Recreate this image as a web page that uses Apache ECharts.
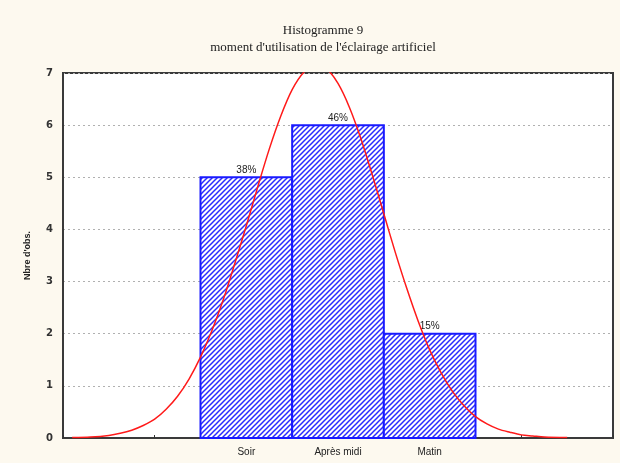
<!DOCTYPE html>
<html><head><meta charset="utf-8">
<script src="https://cdn.jsdelivr.net/npm/echarts@6/dist/echarts.min.js"></script>
<style>html,body{margin:0;padding:0;background:#fdf9ef;}#c{width:620px;height:463px;}</style>
</head><body><div id="c"></div>
<script>
// Data
const categories = ['Soir', 'Après midi', 'Matin'];
const categoryPos = [1, 2, 3];
const counts = [5, 6, 2];
const percentLabels = ['38%', '46%', '15%'];
const yTicks = [0, 1, 2, 3, 4, 5, 6, 7];
// Fitted normal curve (x position, expected count)
const curveX = [-0.9, -0.7, -0.5, -0.375, -0.25, -0.125, 0, 0.125, 0.25, 0.375, 0.5, 0.625, 0.75, 0.875, 1.0, 1.125, 1.25, 1.375, 1.5, 1.625, 1.75, 1.875, 2.0, 2.125, 2.25, 2.375, 2.5, 2.625, 2.75, 2.875, 3.0, 3.125, 3.25, 3.375, 3.5, 3.625, 3.75, 3.875, 4.0, 4.125, 4.25, 4.5];
const curveY = [0.01, 0.02, 0.05, 0.09, 0.15, 0.24, 0.36, 0.55, 0.80, 1.13, 1.55, 2.06, 2.66, 3.35, 4.07, 4.82, 5.54, 6.17, 6.68, 7.01, 7.15, 7.08, 6.80, 6.34, 5.74, 5.04, 4.30, 3.56, 2.87, 2.24, 1.69, 1.25, 0.89, 0.62, 0.41, 0.27, 0.17, 0.11, 0.06, 0.04, 0.02, 0.01];

// hatch pattern
const T = 5;
const tile = document.createElement('canvas');
tile.width = T; tile.height = T;
const g = tile.getContext('2d');
g.fillStyle = '#ffffff'; g.fillRect(0, 0, T, T);
g.strokeStyle = '#2a2aff'; g.lineWidth = 1.5;
g.beginPath();
g.moveTo(-1, T + 1); g.lineTo(T + 1, -1);
g.moveTo(-2, 2); g.lineTo(2, -2);
g.moveTo(T - 2, T + 2); g.lineTo(T + 2, T - 2);
g.stroke();

const barData = categoryPos.map((p, i) => [p, counts[i], percentLabels[i]]);
const curveData = curveX.map((x, i) => [x, curveY[i]]);

const chart = echarts.init(document.getElementById('c'), null, {renderer: 'canvas'});
chart.setOption({
  backgroundColor: '#fdf9ef',
  animation: false,
  title: {
    text: 'Histogramme 9\nmoment d\'utilisation de l\'éclairage artificiel',
    left: 318, textAlign: 'center', top: 17,
    textStyle: {fontFamily: 'Liberation Serif', fontSize: 13, fontWeight: 'normal', color: '#222', lineHeight: 17}
  },
  grid: {left: 63, top: 73, right: 7, bottom: 25, show: true, backgroundColor: '#ffffff', borderColor: '#3a3a3a', borderWidth: 2},
  xAxis: {
    type: 'value', min: -1, max: 5, interval: 1,
    axisLine: {show: true, onZero: false, lineStyle: {color: '#3a3a3a', width: 2}},
    axisTick: {show: true, inside: true, length: 3, lineStyle: {color: '#333'}},
    splitLine: {show: false},
    axisLabel: {
      showMinLabel: true, showMaxLabel: true,
      fontFamily: 'Liberation Sans', fontSize: 10, color: '#222', margin: 9,
      formatter: v => { const i = categoryPos.indexOf(v); return i >= 0 ? categories[i] : ''; }
    }
  },
  yAxis: {
    type: 'value', min: 0, max: 7, interval: 1,
    name: "Nbre d'obs.", nameLocation: 'middle', nameGap: 31,
    nameTextStyle: {fontFamily: 'Liberation Sans', fontSize: 9, fontWeight: 'bold', color: '#222'},
    axisLine: {show: true, onZero: false, lineStyle: {color: '#3a3a3a', width: 2}},
    axisTick: {show: false},
    splitLine: {show: true, lineStyle: {color: '#b0b0b0', type: [2, 3], width: 1}},
    axisLabel: {fontFamily: 'DejaVu Sans', fontSize: 10, fontWeight: 'bold', color: '#333', margin: 10,
      formatter: v => yTicks.indexOf(v) >= 0 ? String(v) : ''}
  },
  series: [
    {
      type: 'custom',
      data: barData,
      z: 2,
      renderItem: function (params, api) {
        const x = api.value(0), v = api.value(1);
        const p0 = api.coord([x - 0.5, 0]);
        const p1 = api.coord([x + 0.5, v]);
        return {
          type: 'group',
          children: [
            {type: 'rect', shape: {x: p0[0], y: p1[1], width: p1[0] - p0[0], height: p0[1] - p1[1]},
             style: {fill: {image: tile, repeat: 'repeat'}, stroke: '#1a1aff', lineWidth: 2}},
            {type: 'text', style: {text: barData[params.dataIndex][2], x: (p0[0] + p1[0]) / 2, y: p1[1] - 2,
              textAlign: 'center', textVerticalAlign: 'bottom', fill: '#222', font: '10px "Liberation Sans"'}}
          ]
        };
      }
    },
    {
      type: 'line', data: curveData, smooth: 0.3, showSymbol: false, symbol: 'none', z: 5,
      clip: true,
      lineStyle: {color: '#ff1a1a', width: 1.5}
    }
  ]
});
</script></body></html>
